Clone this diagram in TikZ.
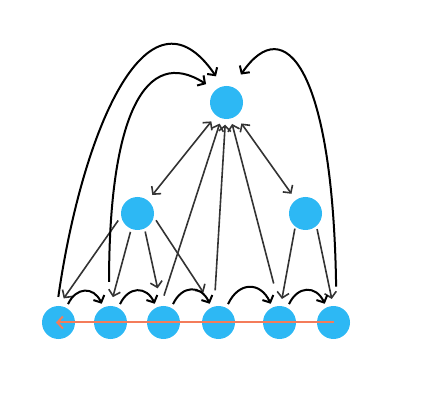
\documentclass[tikz,border=0pt]{standalone}
\usepackage{xcolor}
\definecolor{nodeblue}{RGB}{45, 184, 244}
\definecolor{linkgray}{RGB}{51, 51, 51}
\definecolor{scanorange}{RGB}{244, 124, 90}
\usepackage{tikz}
\usetikzlibrary{arrows.meta, positioning}

\begin{document}
\begin{tikzpicture}[x=1pt, y=1pt, >={Straight Barb[length=5.5pt, width=12pt]},
    vtx/.style={circle, fill=nodeblue, minimum size=33pt, inner sep=0pt},
    link/.style={linkgray, line width=1.6pt},
    hop/.style={->, black, line width=2pt},
    jump/.style={->, black, line width=2pt},
    scan/.style={->, scanorange, line width=2pt}]
    \useasboundingbox (0,0) rectangle (426,-406);
    % vertices
    \node[vtx] (top) at (226.5,-102.5) {};
    \node[vtx] (midl) at (137.5,-213.5) {};
    \node[vtx] (midr) at (305.5,-213.5) {};
    \foreach \i/\x in {1/58.5, 2/110.5, 3/163.5, 4/218.5, 5/279.5, 6/333.5}
        \node[vtx] (b\i) at (\x,-322.5) {};
    % links to the top
    \draw[link, <->, shorten <=7pt, shorten >=7.5pt] (midl) -- (top);
    \draw[link, <->, shorten <=7.5pt, shorten >=9pt] (midr) -- (top);
    \draw[link, ->, shorten <=11pt, shorten >=5.5pt] (b3.100) -- (top);
    \draw[link, ->, shorten <=16pt, shorten >=5.5pt] (b4.105) -- (top);
    \draw[link, ->, shorten <=23pt, shorten >=5.5pt] (b5.north) -- (top);
    % links down to the row
    \draw[link, ->, shorten <=5pt, shorten >=9pt] (midl.190) -- (b1.north);
    \draw[link, ->, shorten <=3pt, shorten >=9pt] (midl.248) -- (b2.north);
    \draw[link, ->, shorten <=3pt, shorten >=18pt] (midl.295) -- (b3.97);
    \draw[link, ->, shorten <=4pt, shorten >=17pt] (midl.348) -- (b4.110);
    \draw[link, ->, shorten <=2pt, shorten >=7pt] (midr.232) -- (b5.86);
    \draw[link, ->, shorten <=3pt, shorten >=7pt] (midr.311) -- (b6.91);
    % hops along the row
    \foreach \a/\b in {1/2, 2/3, 3/4, 4/5, 5/6}
        \draw[hop, shorten <=4pt, shorten >=4pt] (b\a.62) to[out=65, in=115, looseness=1.6] (b\b.115);
    % long jumps back to the top
    \draw[jump, shorten <=9pt, shorten >=12pt] (b1.95) .. controls +(25,175) and +(-75,110) .. (top.103);
    \draw[jump, shorten <=24pt, shorten >=11pt] (b2.95) .. controls +(0,190) and +(-70,45) .. (top.132);
    \draw[jump, shorten <=19.5pt, shorten >=15pt] (b6.80) .. controls +(-3.4,236) and +(52.6,77) .. (top.69);
    % scan back along the row
    \draw[scan, shorten >=-2.5pt] (b6.center) -- (b1.center);
\end{tikzpicture}
\end{document}
